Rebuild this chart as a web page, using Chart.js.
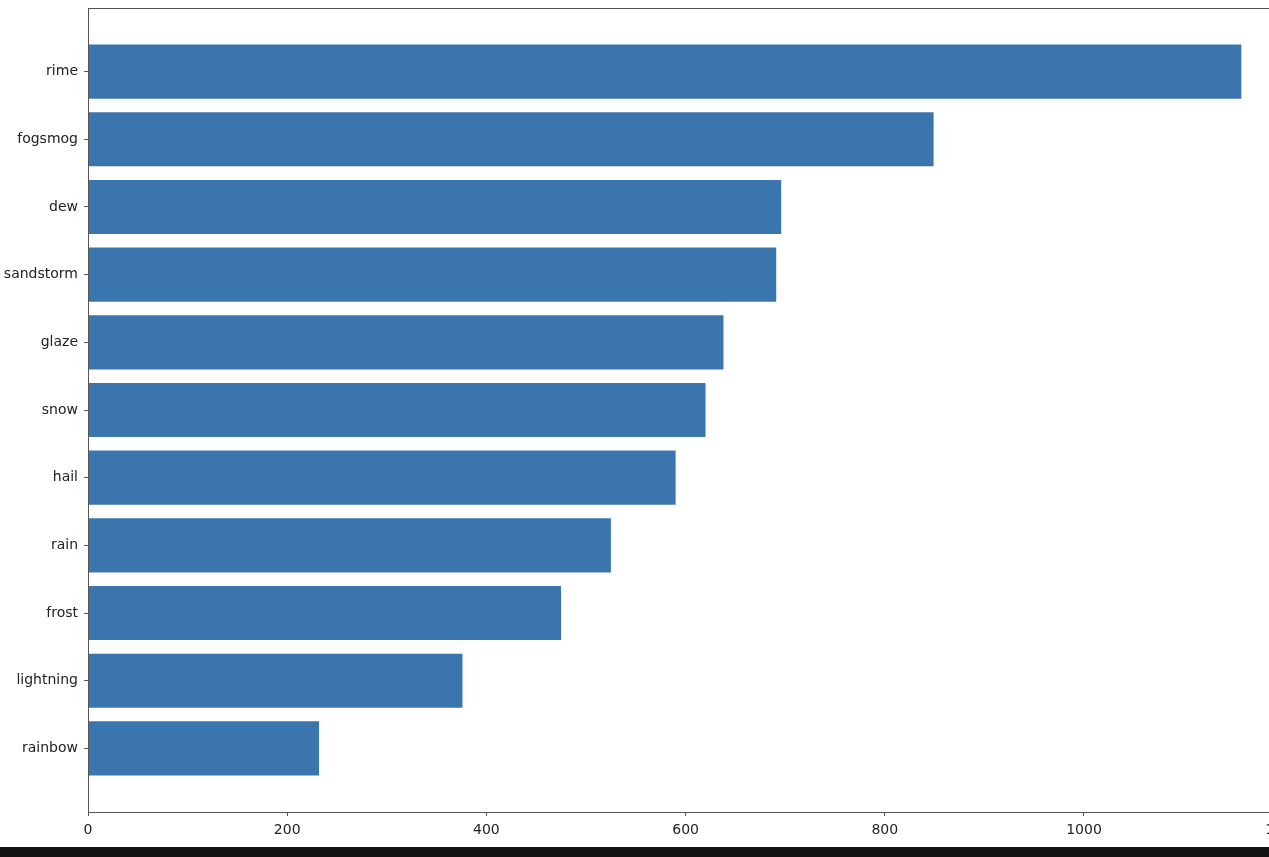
<!DOCTYPE html>
<html>
<head>
<meta charset="utf-8">
<script src="https://cdn.jsdelivr.net/npm/chart.js@4.4.0/dist/chart.umd.min.js"></script>
<style>
	html, body { margin: 0; padding: 0; background: #ffffff; overflow: hidden; }
	#wrap { position: relative; width: 1307px; height: 847px; }
	#strip { position: absolute; left: 0; top: 847px; width: 1269px; height: 10px; background: #111111; }
</style>
</head>
<body>
<div id="wrap"><canvas id="chart"></canvas></div>
<div id="strip"></div>
<script>
	// Data
	var categories = ['rime', 'fogsmog', 'dew', 'sandstorm', 'glaze', 'snow', 'hail', 'rain', 'frost', 'lightning', 'rainbow'];
	var counts = [1158, 849, 696, 691, 638, 620, 590, 525, 475, 376, 232];
	var xTicks = [0, 200, 400, 600, 800, 1000, 1200];

	var barColor = '#3a75ae';
	var axisColor = '#555555';
	var textColor = '#222222';

	var points = counts.map(function(v, i) { return { x: v, y: i }; });

	// frame around the plot area (matplotlib style)
	var framePlugin = {
		id: 'frame',
		afterDraw: function(chart) {
			var a = chart.chartArea;
			var ctx = chart.ctx;
			ctx.save();
			ctx.strokeStyle = axisColor;
			ctx.lineWidth = 1;
			ctx.strokeRect(a.left + 0.5, a.top + 0.5, a.right - a.left, a.bottom - a.top);
			ctx.restore();
		}
	};

	var ctx = document.getElementById('chart').getContext('2d');
	var chart = new Chart(ctx, {
		type: 'bar',
		data: {
			datasets: [{
				data: points,
				backgroundColor: barColor,
				borderWidth: 0,
				barPercentage: 0.8,
				categoryPercentage: 1.0
			}]
		},
		options: {
			indexAxis: 'y',
			responsive: true,
			maintainAspectRatio: false,
			animation: false,
			layout: { padding: { top: 0, right: 0, bottom: 0, left: 0 } },
			plugins: {
				legend: { display: false },
				tooltip: { enabled: false }
			},
			scales: {
				x: {
					type: 'linear',
					min: 0,
					max: 1216,
					afterBuildTicks: function(scale) {
						scale.ticks = xTicks.map(function(v) { return { value: v }; });
					},
					afterFit: function(scale) { scale.height = 35; },
					grid: { drawOnChartArea: false, color: axisColor, tickLength: 4, tickColor: axisColor },
					border: { color: axisColor },
					ticks: {
						color: textColor,
						padding: 6,
						maxRotation: 0,
						autoSkip: false,
						font: { family: 'DejaVu Sans', size: 14 },
						callback: function(v) { return String(v); }
					}
				},
				y: {
					type: 'linear',
					reverse: true,
					offset: false,
					min: -0.94,
					max: 10.94,
					afterBuildTicks: function(scale) {
						scale.ticks = categories.map(function(c, i) { return { value: i }; });
					},
					afterFit: function(scale) {
						scale.width = 88;
						scale.paddingTop = 8;
						scale.paddingBottom = 0;
					},
					grid: { offset: false, drawOnChartArea: false, color: axisColor, tickLength: 4, tickColor: axisColor },
					border: { color: axisColor },
					ticks: {
						color: textColor,
						padding: 6,
						font: { family: 'DejaVu Sans', size: 14 },
						callback: function(v) { return categories[v]; }
					}
				}
			}
		},
		plugins: [framePlugin]
	});
</script>
</body>
</html>
